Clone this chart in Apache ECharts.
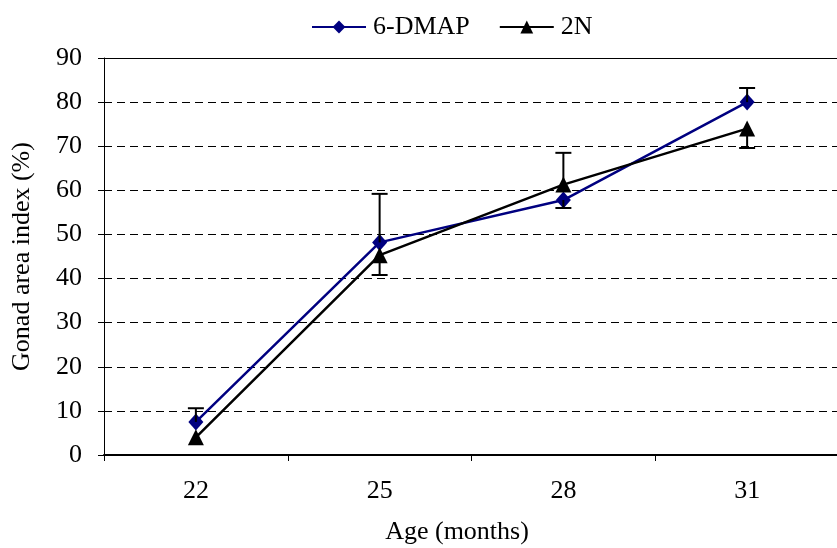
<!DOCTYPE html>
<html>
<head>
<meta charset="utf-8">
<script src="https://cdn.jsdelivr.net/npm/echarts@6/dist/echarts.min.js"></script>
<style>html,body{margin:0;padding:0;background:#fff}#c{width:837px;height:548px}</style>
</head>
<body>
<div id="c"></div>
<script>
const categories = ['22', '25', '28', '31'];
const dmapMean = [7.5, 48.2, 57.8, 80.0];
const dmapBarEnd = [10.6, 59.2, 56.0, 83.2];
const n2Mean = [4.0, 45.3, 61.3, 74.0];
const n2BarEnd = [null, 40.8, 68.5, 69.6];
const yTicks = [0, 10, 20, 30, 40, 50, 60, 70, 80, 90];

const FONT = 'Liberation Serif';
const FS = 26;
const chart = echarts.init(document.getElementById('c'), null, {renderer: 'canvas'});

function errData(mean, end) {
  const out = [];
  mean.forEach((m, i) => { if (end[i] != null) out.push([i, m, end[i]]); });
  return out;
}
function errRender(params, api) {
  const x = api.value(0);
  const p1 = api.coord([x, api.value(1)]);
  const p2 = api.coord([x, api.value(2)]);
  const half = 8;
  const st = {stroke: '#000', lineWidth: 2};
  return {
    type: 'group',
    children: [
      {type: 'line', shape: {x1: p1[0], y1: p1[1], x2: p2[0], y2: p2[1]}, style: st},
      {type: 'line', shape: {x1: p2[0] - half, y1: p2[1], x2: p2[0] + half, y2: p2[1]}, style: st}
    ]
  };
}

chart.setOption({
  animation: false,
  backgroundColor: '#fff',
  textStyle: {fontFamily: FONT, color: '#000'},
  legend: {
    top: 9, left: 306,
    itemWidth: 54, itemHeight: 16, itemGap: 29,
    textStyle: {fontFamily: FONT, fontSize: FS, color: '#000', padding: [0, 0, 0, 2]},
    data: ['6-DMAP', '2N']
  },
  grid: {left: 104, top: 58, width: 735, height: 397, outerBoundsMode: 'none', containLabel: false},
  xAxis: [{
    type: 'category', data: categories, boundaryGap: true,
    name: 'Age (months)', nameLocation: 'middle', nameGap: 64,
    nameTextStyle: {fontFamily: FONT, fontSize: FS, color: '#000', padding: [0, 29, 0, 0]},
    axisLine: {lineStyle: {color: '#000', width: 2}},
    axisTick: {show: true, length: 6, lineStyle: {color: '#000', width: 1}},
    axisLabel: {fontFamily: FONT, fontSize: FS, color: '#000', margin: 23}
  }, {
    type: 'category', data: categories, position: 'top', boundaryGap: true,
    axisLine: {show: true, lineStyle: {color: '#000', width: 1}},
    axisTick: {show: false}, axisLabel: {show: false}
  }],
  yAxis: {
    type: 'value', min: yTicks[0], max: yTicks[yTicks.length - 1], interval: 10,
    name: 'Gonad area index (%)', nameLocation: 'middle', nameGap: 69,
    nameTextStyle: {fontFamily: FONT, fontSize: FS, color: '#000'},
    axisLine: {show: true, lineStyle: {color: '#000', width: 1}},
    axisTick: {show: true, length: 6, lineStyle: {color: '#000'}},
    axisLabel: {fontFamily: FONT, fontSize: FS, color: '#000', margin: 22},
    splitLine: {show: true, lineStyle: {color: '#000', width: 1, type: [8, 5]}}
  },
  series: [
    {
      name: '6-DMAP', type: 'line', data: dmapMean,
      symbol: 'diamond', symbolSize: [15, 17],
      itemStyle: {color: '#000080'},
      lineStyle: {color: '#000080', width: 2.5},
      z: 3
    },
    {
      name: '2N', type: 'line', data: n2Mean,
      symbol: 'triangle', symbolSize: [16, 16],
      itemStyle: {color: '#000'},
      lineStyle: {color: '#000', width: 2.5},
      z: 4
    },
    {
      type: 'custom', renderItem: errRender, data: errData(dmapMean, dmapBarEnd),
      encode: {x: 0, y: [1, 2]}, z: 5, silent: true
    },
    {
      type: 'custom', renderItem: errRender, data: errData(n2Mean, n2BarEnd),
      encode: {x: 0, y: [1, 2]}, z: 5, silent: true
    }
  ]
});
</script>
</body>
</html>
